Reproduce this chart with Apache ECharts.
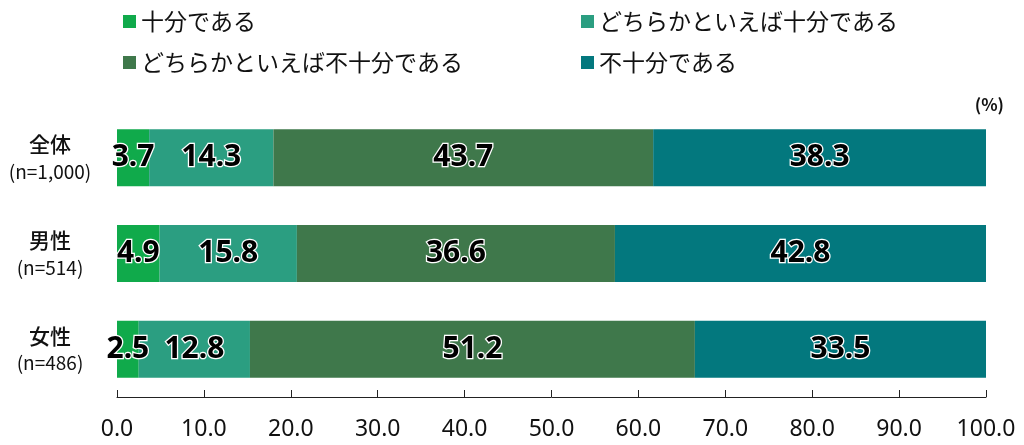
<!DOCTYPE html>
<html>
<head>
<meta charset="utf-8">
<script src="https://cdn.jsdelivr.net/npm/echarts@6/dist/echarts.min.js"></script>
<style>
  html, body { margin: 0; padding: 0; background: #fff; }
  #chartBox { width: 1024px; height: 445px; }
</style>
</head>
<body>
<div id="chartBox"></div>
<script>
// 回答区分
var seriesNames = ['十分である', 'どちらかといえば十分である', 'どちらかといえば不十分である', '不十分である'];
// 属性（上から）
var groups = ['全体', '男性', '女性'];
var sampleSizes = ['n=1,000', 'n=514', 'n=486'];
// 各区分の割合(%)
var enough = [3.7, 4.9, 2.5];
var ratherEnough = [14.3, 15.8, 12.8];
var ratherNotEnough = [43.7, 36.6, 51.2];
var notEnough = [38.3, 42.8, 33.5];
var colors = ['#10aa4b', '#2b9e81', '#3f784b', '#03787e'];

var font = '"Noto Sans CJK JP", "Noto Sans", sans-serif';
var myChart = echarts.init(document.getElementById('chartBox'));

function makeSeries(name, values, color) {
    return {
        name: name,
        type: 'bar',
        stack: 'total',
        barWidth: 57,
        data: values,
        itemStyle: { color: color },
        label: {
            show: true,
            position: 'inside',
            formatter: function (p) { return p.value.toFixed(1); },
            color: '#000',
            fontFamily: '"Noto Sans", sans-serif',
            fontWeight: 'bold',
            fontSize: 30,
            textBorderColor: '#fff',
            textBorderWidth: 2.5
        }
    };
}

var option = {
    animation: false,
    textStyle: { fontFamily: font },
    legend: [
        {
            left: 118, top: 5, orient: 'vertical', itemGap: 18,
            itemWidth: 13, itemHeight: 13, icon: 'rect',
            data: [seriesNames[0], seriesNames[2]],
            textStyle: { fontSize: 23, color: '#111', fontFamily: font }
        },
        {
            left: 576, top: 5, orient: 'vertical', itemGap: 18,
            itemWidth: 13, itemHeight: 13, icon: 'rect',
            data: [seriesNames[1], seriesNames[3]],
            textStyle: { fontSize: 23, color: '#111', fontFamily: font }
        }
    ],
    graphic: [{
        type: 'text', right: 20, top: 96,
        style: { text: '(%)', fontSize: 17, fontWeight: 'bold', fill: '#111', fontFamily: font }
    }],
    grid: { left: 117, right: 38, top: 110, bottom: 48, containLabel: false },
    xAxis: {
        type: 'value',
        min: 0, max: 100, interval: 10,
        position: 'bottom',
        splitLine: { show: false },
        axisLine: { show: true, lineStyle: { color: '#222', width: 1 } },
        axisTick: { show: true, inside: true, length: 7, lineStyle: { color: '#222' } },
        axisLabel: { fontSize: 23, color: '#111', margin: 21, fontFamily: '"Noto Sans", sans-serif',
            formatter: function (v) { return v.toFixed(1); } }
    },
    yAxis: {
        type: 'category',
        inverse: true,
        data: groups,
        axisLine: { show: false },
        axisTick: { show: false },
        axisLabel: {
            margin: 67,
            align: 'center',
            formatter: function (v, i) { return '{g|' + v + '}\n{n|(' + sampleSizes[i] + ')}'; },
            rich: {
                g: { fontSize: 21, color: '#111', fontFamily: font, fontWeight: 500, lineHeight: 28, align: 'center' },
                n: { fontSize: 19, color: '#111', fontFamily: font, lineHeight: 27, align: 'center' }
            }
        }
    },
    series: [
        makeSeries(seriesNames[0], enough, colors[0]),
        makeSeries(seriesNames[1], ratherEnough, colors[1]),
        makeSeries(seriesNames[2], ratherNotEnough, colors[2]),
        makeSeries(seriesNames[3], notEnough, colors[3])
    ]
};

myChart.setOption(option);
</script>
</body>
</html>
